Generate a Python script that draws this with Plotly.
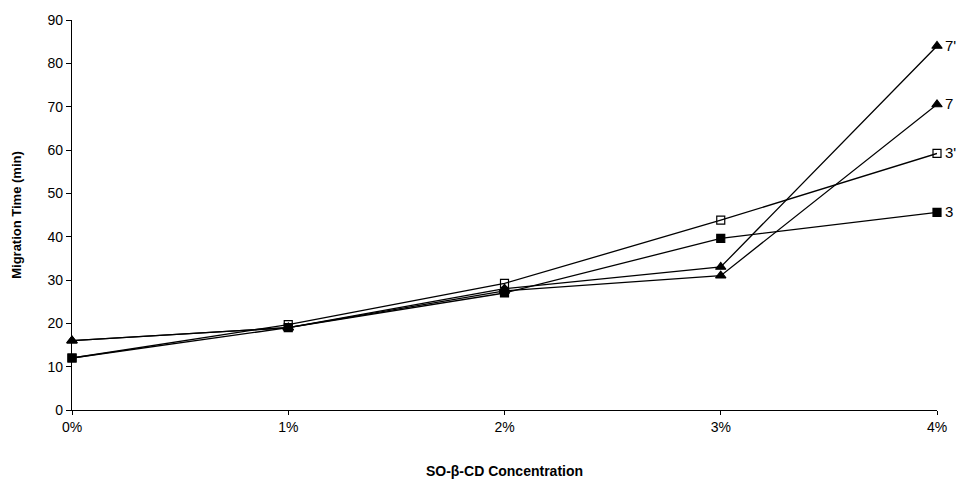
import plotly.graph_objects as go

concentrations = ["0%", "1%", "2%", "3%", "4%"]
x_pos = [0, 1, 2, 3, 4]
series_names = ["7'", "7", "3'", "3"]
mt_7p = [16, 19, 28, 33, 84]
mt_7 = [16, 19, 27.5, 31, 70.5]
mt_3p = [12, 19.7, 29.2, 43.8, 59.2]
mt_3 = [12, 19, 27, 39.6, 45.6]

series = [
    ("7'", mt_7p, "triangle-up", "black"),
    ("7", mt_7, "triangle-up", "black"),
    ("3'", mt_3p, "square-open", "black"),
    ("3", mt_3, "square", "black"),
]

fig = go.Figure()
for name, vals, sym, col in series:
    fig.add_trace(go.Scatter(
        x=x_pos, y=vals, mode="lines+markers", name=name,
        line=dict(color="black", width=1.3),
        marker=dict(symbol=sym, size=9 if "triangle" in sym else 8, color=col,
                    line=dict(color="black", width=1.2)),
        cliponaxis=False,
    ))
    fig.add_annotation(x=x_pos[-1], y=vals[-1], text=name, showarrow=False,
                       xanchor="left", xshift=6, yshift=1,
                       font=dict(family="Liberation Sans, Arial", size=15, color="black"))

fig.update_layout(
    width=949, height=472,
    margin=dict(l=64, r=20, t=12, b=70),
    paper_bgcolor="white", plot_bgcolor="white",
    showlegend=False,
    font=dict(family="Liberation Sans, Arial", size=14, color="black"),
)
fig.update_xaxes(
    range=[0, 4], tickvals=x_pos, ticktext=concentrations, automargin=False,
    showgrid=False, zeroline=False, showline=True, linecolor="black", linewidth=1.2,
    ticks="outside", ticklen=4, tickcolor="black",
    title=dict(text="<b>SO-β-CD Concentration</b>", font=dict(size=14), standoff=32),
)
fig.update_yaxes(
    range=[0, 90], dtick=10, automargin=False,
    showgrid=False, zeroline=False, showline=True, linecolor="black", linewidth=1.2,
    ticks="outside", ticklen=5, tickcolor="black",
    title=dict(text="<b>Migration Time (min)</b>", font=dict(size=13), standoff=22),
)
fig.write_html("out.html")
